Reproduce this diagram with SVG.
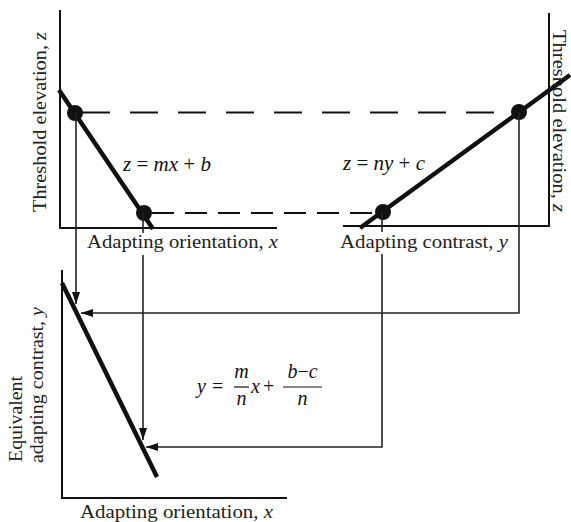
<svg xmlns="http://www.w3.org/2000/svg" width="571" height="522" viewBox="0 0 571 522">
<style>
.axis{stroke:#111;stroke-width:2;fill:none}
.thick{stroke:#111;stroke-width:4.5;fill:none;stroke-linecap:butt}
.conn{stroke:#222;stroke-width:1.6;fill:none}
.dashA{stroke:#111;stroke-width:2;fill:none;stroke-dasharray:28 20}
.dashB{stroke:#111;stroke-width:2;fill:none;stroke-dasharray:22 11}
.dot{fill:#111}
.lbl{font-family:"Liberation Serif","Times New Roman",serif;font-size:19px;fill:#222}
.eq{font-family:"Liberation Serif","Times New Roman",serif;font-size:20px;fill:#111}
.eqz{font-family:"Liberation Serif","Times New Roman",serif;font-size:21px;fill:#111}
.it{font-style:italic}
</style>
<defs>
<marker id="ah" markerUnits="userSpaceOnUse" markerWidth="14" markerHeight="10" refX="12" refY="4" orient="auto">
<path d="M0,0 L12,4 L0,8 Z" fill="#111"/>
</marker>
</defs>
<rect width="571" height="522" fill="#fff"/>

<g id="panel-orientation">
<path class="axis" d="M60,10 V228 H277"/>
<line class="thick" x1="59" y1="90" x2="153" y2="229"/>
<circle class="dot" cx="75" cy="113" r="8"/>
<circle class="dot" cx="144" cy="213" r="8"/>
<text class="eqz" x="123" y="171"><tspan class="it">z</tspan> = <tspan class="it">mx</tspan> + <tspan class="it">b</tspan></text>
<text class="lbl" x="87" y="248" textLength="191" lengthAdjust="spacingAndGlyphs">Adapting orientation, <tspan class="it">x</tspan></text>
<text class="lbl" transform="translate(46,212) rotate(-90)" textLength="180" lengthAdjust="spacingAndGlyphs">Threshold elevation, <tspan class="it">z</tspan></text>
</g>

<g id="panel-contrast">
<path class="axis" d="M549,13 V226 H343"/>
<line class="thick" x1="360" y1="228" x2="570" y2="75"/>
<circle class="dot" cx="519" cy="112" r="8"/>
<circle class="dot" cx="383" cy="212" r="8"/>
<text class="eqz" x="343" y="170"><tspan class="it">z</tspan> = <tspan class="it">ny</tspan> + <tspan class="it">c</tspan></text>
<text class="lbl" x="340" y="248" textLength="168" lengthAdjust="spacingAndGlyphs">Adapting contrast, <tspan class="it">y</tspan></text>
<text class="lbl" transform="translate(553,30) rotate(90)" textLength="182" lengthAdjust="spacingAndGlyphs">Threshold elevation, <tspan class="it">z</tspan></text>
</g>

<g id="panel-equivalent">
<path class="axis" d="M62,270 V498 H287"/>
<line class="thick" x1="62" y1="283" x2="157" y2="477"/>
<text class="lbl" x="80" y="518" textLength="193" lengthAdjust="spacingAndGlyphs">Adapting orientation, <tspan class="it">x</tspan></text>
<text class="lbl" transform="translate(22,462) rotate(-90)" textLength="86" lengthAdjust="spacingAndGlyphs">Equivalent</text>
<text class="lbl" transform="translate(43,463) rotate(-90)" textLength="156" lengthAdjust="spacingAndGlyphs">adapting contrast, <tspan class="it">y</tspan></text>
<g class="eq">
<text class="it" x="197" y="393">y</text>
<text x="212" y="393">=</text>
<text class="it" x="241.5" y="378" text-anchor="middle">m</text>
<line x1="234" y1="387" x2="249" y2="387" stroke="#111" stroke-width="1.2"/>
<text class="it" x="241.5" y="405" text-anchor="middle">n</text>
<text class="it" x="251" y="393">x</text>
<text x="263" y="393">+</text>
<text x="302.5" y="378" text-anchor="middle"><tspan class="it">b</tspan>−<tspan class="it">c</tspan></text>
<line x1="283" y1="387" x2="322" y2="387" stroke="#111" stroke-width="1.2"/>
<text class="it" x="302.5" y="405" text-anchor="middle">n</text>
</g>
</g>

<g id="connectors">
<line class="dashA" x1="82" y1="112.5" x2="512" y2="112.5"/>
<line class="dashB" x1="152" y1="213" x2="375" y2="213"/>
<line class="conn" x1="76" y1="113" x2="76" y2="304" marker-end="url(#ah)"/>
<polyline class="conn" points="519,112 519,313 81,313" marker-end="url(#ah)"/>
<line class="conn" x1="143" y1="213" x2="143" y2="233"/>
<line class="conn" x1="143" y1="255" x2="143" y2="440" marker-end="url(#ah)"/>
<line class="conn" x1="382" y1="212" x2="382" y2="232"/>
<polyline class="conn" points="382,254 382,447 146,447" marker-end="url(#ah)"/>
</g>
</svg>
